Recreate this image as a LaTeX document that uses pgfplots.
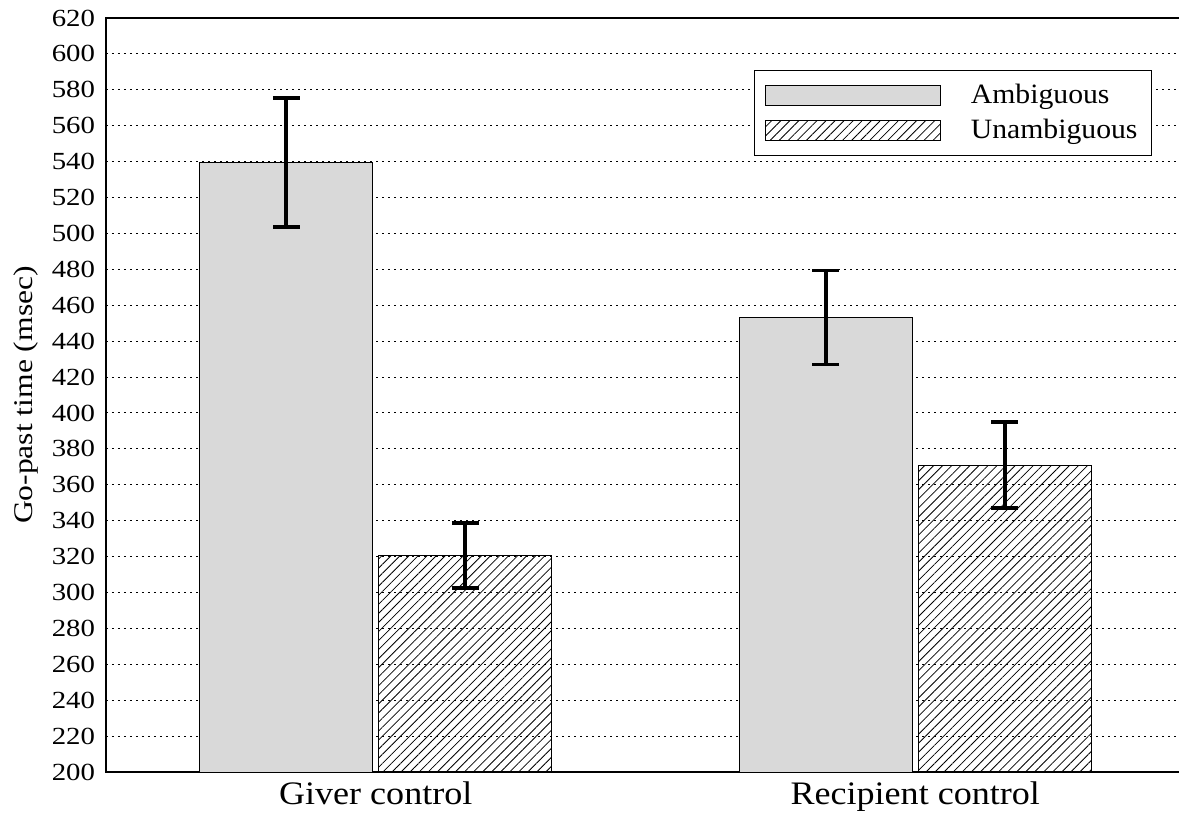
\documentclass[border=0pt]{standalone}
\usepackage{graphicx}
\usepackage{pgfplots}
\pgfplotsset{compat=1.18}
\usepackage{fontspec}
\setmainfont{Liberation Serif}
\usetikzlibrary{patterns.meta}
\definecolor{barGray}{RGB}{217,217,217}
\begin{document}
\begin{tikzpicture}
\begin{axis}[
  name=ax,
  at={(0pt,0pt)}, anchor=south west,
  scale only axis,
  width=539.5pt, height=377pt,
  xmin=-0.5, xmax=1.5,
  ymin=200, ymax=620,
  ytick={200,220,...,620},
  xtick={0,1},
  xticklabels={\scalebox{1.1}[1]{Giver control}, \scalebox{1.1}[1]{Recipient control}},
  x tick label style={font=\fontsize{16.4}{18}\selectfont, yshift=-1.5pt},
  y tick label style={font=\fontsize{12.3}{14}\selectfont, xshift=-2pt},
  /pgf/number format/assume math mode=true,
  yticklabel={\scalebox{1.17}[1]{\pgfmathprintnumber{\tick}}},
  major tick length=0pt,
  ymajorgrids,
  major grid style={black, line width=0.5pt, dash pattern=on 1.2pt off 1.8pt},
  axis line style={black, line width=0.6pt},
  ylabel={\scalebox{1.17}[1]{Go-past time (msec)}},
  every axis y label/.style={at={(rel axis cs:0,0.5)}, rotate=90, anchor=center, yshift=40pt, font=\fontsize{13.5}{15}\selectfont},
  bar width=0.321,
  legend style={at={(rel axis cs:0.9694,0.931)}, anchor=north east,
    draw=black, line width=0.5pt, font=\fontsize{14}{16}\selectfont,
    inner xsep=5pt, inner ysep=5pt, row sep=2.3pt},
  legend cell align=left,
  legend image code/.code={\draw[#1, line width=0.5pt] (0pt,-5pt) rectangle (87.5pt,5pt);},
  legend columns=1,
]
\addplot[ybar, bar shift=0pt, draw=black, line width=0.5pt, fill=barGray,
  error bars/.cd, y dir=both, y explicit,
  error bar style={line width=1.9pt, black},
  error mark options={rotate=90, mark size=6.7pt, line width=1.9pt, black}]
  coordinates {(-0.166,539.5) +- (0,36) (0.834,453.2) +- (0,26.2)};
\addlegendentry{\hspace{13pt}\scalebox{1.06}[1]{Ambiguous}}
\addplot[ybar, bar shift=0pt, draw=black, line width=0.5pt,
  pattern={Lines[angle=45,distance=3.2pt,line width=0.4pt]},
  error bars/.cd, y dir=both, y explicit,
  error bar style={line width=1.9pt, black},
  error mark options={rotate=90, mark size=6.7pt, line width=1.9pt, black}]
  coordinates {(0.166,320.5) +- (0,18.1) (1.166,371) +- (0,24)};
\addlegendentry{\hspace{13pt}\scalebox{1.06}[1]{Unambiguous}}
\end{axis}
\pgfresetboundingbox
\path (-53pt,-24pt) rectangle (536.5pt,386pt);
\end{tikzpicture}
\end{document}
